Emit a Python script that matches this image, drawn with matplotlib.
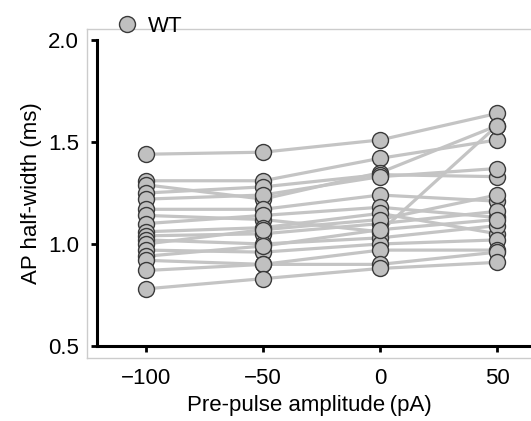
import matplotlib
matplotlib.use("Agg")
import matplotlib.pyplot as plt
from matplotlib.lines import Line2D

plt.rcParams["font.family"] = ["Liberation Sans", "DejaVu Sans"]

# pre-pulse amplitudes (pA) and AP half-width (ms) per WT cell
amplitudes = [-100, -50, 0, 50]
cells = [
    [1.44, 1.45, 1.51, 1.64],
    [1.31, 1.31, 1.42, 1.51],
    [1.29, 1.22, 1.35, 1.58],
    [1.25, 1.28, 1.34, 1.33],
    [1.22, 1.24, 1.33, 1.37],
    [1.17, 1.17, 1.24, 1.21],
    [1.14, 1.12, 1.06, 1.58],
    [1.10, 1.14, 1.18, 1.13],
    [1.06, 1.08, 1.15, 1.05],
    [1.04, 1.05, 1.10, 1.16],
    [1.02, 1.00, 1.03, 1.09],
    [1.00, 1.07, 1.12, 1.24],
    [0.97, 0.96, 1.00, 1.02],
    [0.94, 0.99, 1.07, 1.12],
    [0.92, 0.90, 0.97, 0.97],
    [0.87, 0.90, 0.90, 0.96],
    [0.78, 0.83, 0.88, 0.91],
]
yticks = [0.5, 1.0, 1.5, 2.0]
xticks = [-100, -50, 0, 50]

FS = 16
fig = plt.figure(figsize=(5.31, 4.21), dpi=100)
ax = fig.add_axes([87 / 531, 63 / 421, 444 / 531, 329 / 421])

for vals in cells:
    ax.plot(amplitudes, vals, color="#c4c4c4", lw=2.3, zorder=1, solid_capstyle="round")
for vals in cells:
    ax.plot(amplitudes, vals, ls="none", marker="o", ms=11.5, mfc="#c0c0c0",
            mec="#3a3a3a", mew=1.0, zorder=2)

ax.set_xlim(-125.2, 64.5)
ax.set_ylim(0.441, 2.054)

# offset black axis lines inside a light grey frame
for s in ["top", "right"]:
    ax.spines[s].set_visible(False)
ax.spines["left"].set_position(("data", -121))
ax.spines["left"].set_bounds(0.5, 2.0)
ax.spines["bottom"].set_position(("data", 0.5))
ax.spines["bottom"].set_bounds(-121, 63.5)
for s in ["left", "bottom"]:
    ax.spines[s].set_linewidth(2.2)
    ax.spines[s].set_color("black")
    ax.spines[s].set_zorder(3)

frame_kw = dict(color="#cccccc", lw=1.0, transform=ax.transAxes, clip_on=False, zorder=0)
ax.add_line(Line2D([0, 1], [1, 1], **frame_kw))
ax.add_line(Line2D([0, 0], [0, 1], **frame_kw))
ax.add_line(Line2D([0, 1], [0, 0], **frame_kw))

ax.set_xticks(xticks)
ax.set_xticklabels(["\u2212100", "\u221250", "0", "50"])
ax.set_yticks(yticks)
ax.set_yticklabels([f"{v:.1f}" for v in yticks])
ax.tick_params(axis="x", direction="out", length=4, width=2, labelsize=FS, pad=12)
ax.tick_params(axis="y", direction="out", length=4, width=2, labelsize=FS, pad=9)

ax.set_xlabel("Pre-pulse amplitude\u2009(pA)", fontsize=FS, labelpad=4)
ax.set_ylabel("AP half-width (ms)", fontsize=FS, labelpad=4)

handle = Line2D([], [], ls="none", marker="o", ms=11.5, mfc="#c0c0c0", mec="#3a3a3a", mew=1.0)
fig.legend([handle], ["WT"], loc="center left", bbox_to_anchor=(118 / 531, 1 - 26 / 421),
           frameon=False, fontsize=FS, handlelength=0.8, handletextpad=0.55,
           borderpad=0, borderaxespad=0)

fig.savefig("out.png", dpi=100)
